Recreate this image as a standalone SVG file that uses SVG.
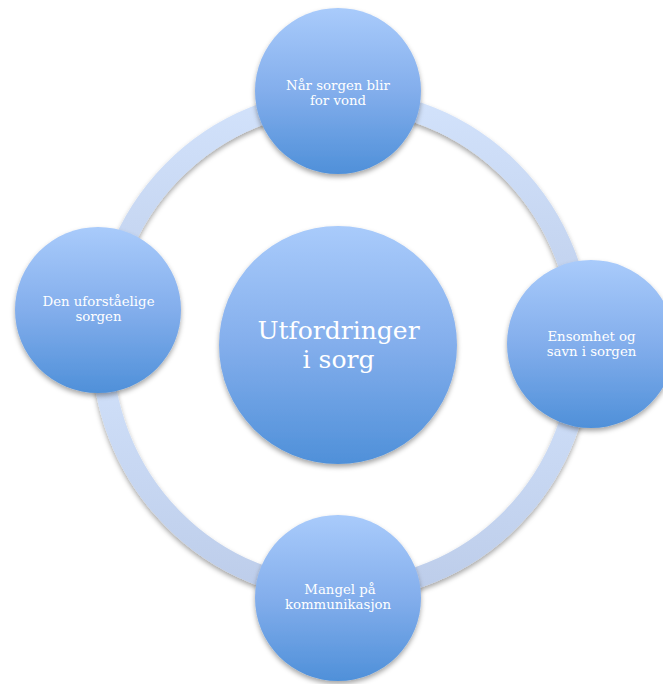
<svg xmlns="http://www.w3.org/2000/svg" width="663" height="684" viewBox="0 0 663 684">
<defs>
  <linearGradient id="gNode" x1="0" y1="0" x2="0" y2="1">
    <stop offset="0" stop-color="#a9cbfb"/>
    <stop offset="0.5" stop-color="#83aeec"/>
    <stop offset="1" stop-color="#4f90d9"/>
  </linearGradient>
  <linearGradient id="gRing" x1="0" y1="0" x2="0" y2="1">
    <stop offset="0" stop-color="#d2e2fb"/>
    <stop offset="1" stop-color="#bdcdea"/>
  </linearGradient>
  <filter id="sh" x="-20%" y="-20%" width="140%" height="140%">
    <feDropShadow dx="0" dy="3" stdDeviation="2.5" flood-color="#000" flood-opacity="0.35"/>
  </filter>
</defs>
<style>
  .node { fill: url(#gNode); filter: url(#sh); }
  .arc { fill: none; stroke: url(#gRing); stroke-width: 21; filter: url(#sh); }
  text { font-family: "DejaVu Serif", "Liberation Serif", serif; fill: #ffffff; text-anchor: middle; }
  .s { font-size: 13.3px; }
  .c { font-size: 25px; }
</style>
<rect width="663" height="684" fill="#ffffff"/>
<g id="connectors">
  <path class="arc" d="M342,100 A240,245 0 0 1 582,345"/>
  <path class="arc" d="M582,345 A240,245 0 0 1 342,590"/>
  <path class="arc" d="M342,590 A240,245 0 0 1 102,345"/>
  <path class="arc" d="M102,345 A240,245 0 0 1 342,100"/>
</g>
<g id="center">
  <circle class="node" cx="338" cy="345" r="119"/>
  <text class="c" x="338.5" y="339">Utfordringer</text>
  <text class="c" x="338.5" y="368">i sorg</text>
</g>
<g id="top">
  <circle class="node" cx="338" cy="91" r="83"/>
  <text class="s" x="338" y="90">Når sorgen blir</text>
  <text class="s" x="338" y="104.5">for vond</text>
</g>
<g id="right">
  <circle class="node" cx="591" cy="344" r="84"/>
  <text class="s" x="591.5" y="341">Ensomhet og</text>
  <text class="s" x="591.5" y="355.5">savn i sorgen</text>
</g>
<g id="bottom">
  <circle class="node" cx="338" cy="598" r="83"/>
  <text class="s" x="340" y="594">Mangel på</text>
  <text class="s" x="338" y="608.5">kommunikasjon</text>
</g>
<g id="left">
  <circle class="node" cx="98" cy="310" r="83"/>
  <text class="s" x="98.5" y="306">Den uforståelige</text>
  <text class="s" x="98.5" y="320.5">sorgen</text>
</g>
</svg>
